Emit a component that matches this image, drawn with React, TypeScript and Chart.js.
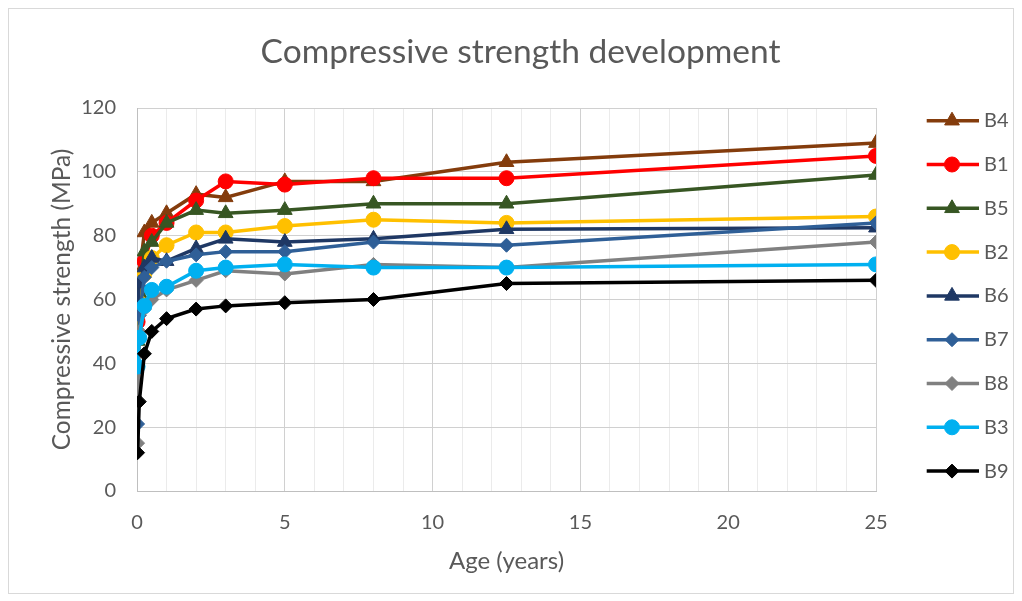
import React, { useEffect, useRef } from "react";
import { Chart, registerables } from "chart.js";
import { drawPoint } from "chart.js/helpers";

Chart.register(...registerables);

// Ages in years (7 d, 28 d, 90 d, 6 mo, 1, 2, 3, 5, 8, 12.5, 25 years)
const ages = [0.02, 0.077, 0.25, 0.5, 1, 2, 3, 5, 8, 12.5, 25];

const seriesNames = ["B4", "B1", "B5", "B2", "B6", "B7", "B8", "B3", "B9"];

const b4 = [null, 68, 81, 84, 87, 93, 92, 97, 97, 103, 109];
const b1 = [53, 63, 72, 80, 84, 91, 97, 96, 98, 98, 105];
const b5 = [47, 62, 75, 78, 84, 88, 87, 88, 90, 90, 99];
const b2 = [48, 59, 68, 73, 77, 81, 81, 83, 85, 84, 86];
const b6 = [57, 65, 70, 73, 72, 76, 79, 78, 79, 82, 82.5];
const b7 = [21, 55, 67, 70, 72, 74, 75, 75, 78, 77, 84];
const b8 = [15, 50, 57, 60, 63, 66, 69, 68, 71, 70, 78];
const b3 = [39, 48, 58, 63, 64, 69, 70, 71, 70, 70, 71];
const b9 = [12, 28, 43, 50, 54, 57, 58, 59, 60, 65, 66];

const seriesValues = [b4, b1, b5, b2, b6, b7, b8, b3, b9];

const seriesColors = [
  "#843C0C",
  "#FF0000",
  "#375623",
  "#FFC000",
  "#1F3864",
  "#2F5F97",
  "#808080",
  "#00B0F0",
  "#000000",
];

const seriesMarkers = [
  "triangle",
  "circle",
  "triangle",
  "circle",
  "triangle",
  "rectRot",
  "rectRot",
  "circle",
  "rectRot",
];

const chartTitle = "Compressive strength development";
const xTickMax = 25;
const yTickMax = 120;

const FONT = "Lato, 'Open Sans', sans-serif";
const TEXT = "#595959";

const W = 1006;
const H = 586;

function markerRadius(style: string) {
  if (style === "triangle") return 8.5;
  if (style === "rectRot") return 7;
  return 7.5;
}

const frameTitleLegend = {
  id: "frameTitleLegend",
  beforeDraw(chart: any) {
    const ctx = chart.ctx;
    ctx.save();
    ctx.fillStyle = "#ffffff";
    ctx.fillRect(0, 0, chart.width, chart.height);
    ctx.strokeStyle = "#d9d9d9";
    ctx.lineWidth = 1;
    ctx.strokeRect(0.5, 0.5, chart.width - 1, chart.height - 1);
    ctx.fillStyle = TEXT;
    ctx.font = `33.5px ${FONT}`;
    ctx.textAlign = "center";
    ctx.textBaseline = "middle";
    ctx.fillText(chartTitle, 512.5, 44.5);
    ctx.restore();
  },
  afterDraw(chart: any) {
    const ctx = chart.ctx;
    const top = 112.7;
    const step = 43.8;
    const x1 = 918.7;
    const x2 = 971;
    const xm = 944;
    const xt = 976;
    chart.data.datasets.forEach((ds: any, i: number) => {
      const y = top + i * step;
      ctx.save();
      ctx.strokeStyle = ds.borderColor;
      ctx.lineWidth = ds.borderWidth;
      ctx.beginPath();
      ctx.moveTo(x1, y);
      ctx.lineTo(x2, y);
      ctx.stroke();
      ctx.fillStyle = ds.pointBackgroundColor;
      ctx.strokeStyle = ds.pointBorderColor;
      ctx.lineWidth = 1;
      drawPoint(
        ctx,
        { pointStyle: ds.pointStyle, radius: ds.pointRadius, borderWidth: 1, rotation: 0 } as any,
        xm,
        y
      );
      ctx.fillStyle = TEXT;
      ctx.font = `20px ${FONT}`;
      ctx.textBaseline = "middle";
      ctx.textAlign = "left";
      ctx.fillText(ds.label, xt, y);
      ctx.restore();
    });
  },
};

export default function App() {
  const ref = useRef<HTMLCanvasElement | null>(null);

  useEffect(() => {
    if (!ref.current) return;
    const datasets = seriesNames.map((name, i) => ({
      label: name,
      data: ages.map((a, j) => ({ x: a, y: seriesValues[i][j] })),
      borderColor: seriesColors[i],
      backgroundColor: seriesColors[i],
      pointBackgroundColor: seriesColors[i],
      pointBorderColor: seriesColors[i],
      pointStyle: seriesMarkers[i],
      pointRadius: markerRadius(seriesMarkers[i]),
      pointBorderWidth: 1,
      borderWidth: 3.5,
      tension: 0,
      spanGaps: true,
      order: seriesNames.length - 1 - i,
    }));

    const chart = new Chart(ref.current, {
      type: "line",
      data: { datasets },
      plugins: [frameTitleLegend],
      options: {
        responsive: false,
        animation: false,
        devicePixelRatio: 1,
        layout: { padding: { left: 0, right: 138, top: 100, bottom: 0 } },
        plugins: {
          legend: { display: false },
          tooltip: { enabled: false },
          title: { display: false },
        },
        scales: {
          x: {
            type: "linear",
            min: 0,
            max: xTickMax,
            afterFit: (s: any) => {
              s.height = 103;
            },
            ticks: {
              stepSize: 1,
              autoSkip: false,
              maxRotation: 0,
              padding: 20,
              color: TEXT,
              font: { family: FONT, size: 20 },
              callback: (v: any) => (Number(v) % 5 === 0 ? String(v) : ""),
            },
            grid: {
              drawTicks: false,
              color: (c: any) => (c.tick && c.tick.value % 5 === 0 ? "#d0d0d0" : "#ebebeb"),
              lineWidth: 1,
            },
            border: { display: true, color: "#bfbfbf", width: 1 },
            title: {
              display: true,
              text: "Age (years)",
              color: TEXT,
              font: { family: FONT, size: 24 },
              padding: { top: 0, bottom: 18.6 },
            },
          },
          y: {
            min: 0,
            max: yTickMax,
            afterFit: (s: any) => {
              s.width = 129;
            },
            ticks: {
              stepSize: 20,
              padding: 21,
              color: TEXT,
              font: { family: FONT, size: 20 },
            },
            grid: { drawTicks: false, color: "#d0d0d0", lineWidth: 1 },
            border: { display: true, color: "#bfbfbf", width: 1 },
            title: {
              display: true,
              text: "Compressive strength (MPa)",
              color: TEXT,
              font: { family: FONT, size: 24.5 },
              padding: { top: 39.3, bottom: 0 },
            },
          },
        },
      },
    });
    return () => chart.destroy();
  }, []);

  return (
    <div style={{ width: W, height: H }}>
      <canvas ref={ref} width={W} height={H} style={{ display: "block", width: W, height: H }} />
    </div>
  );
}
